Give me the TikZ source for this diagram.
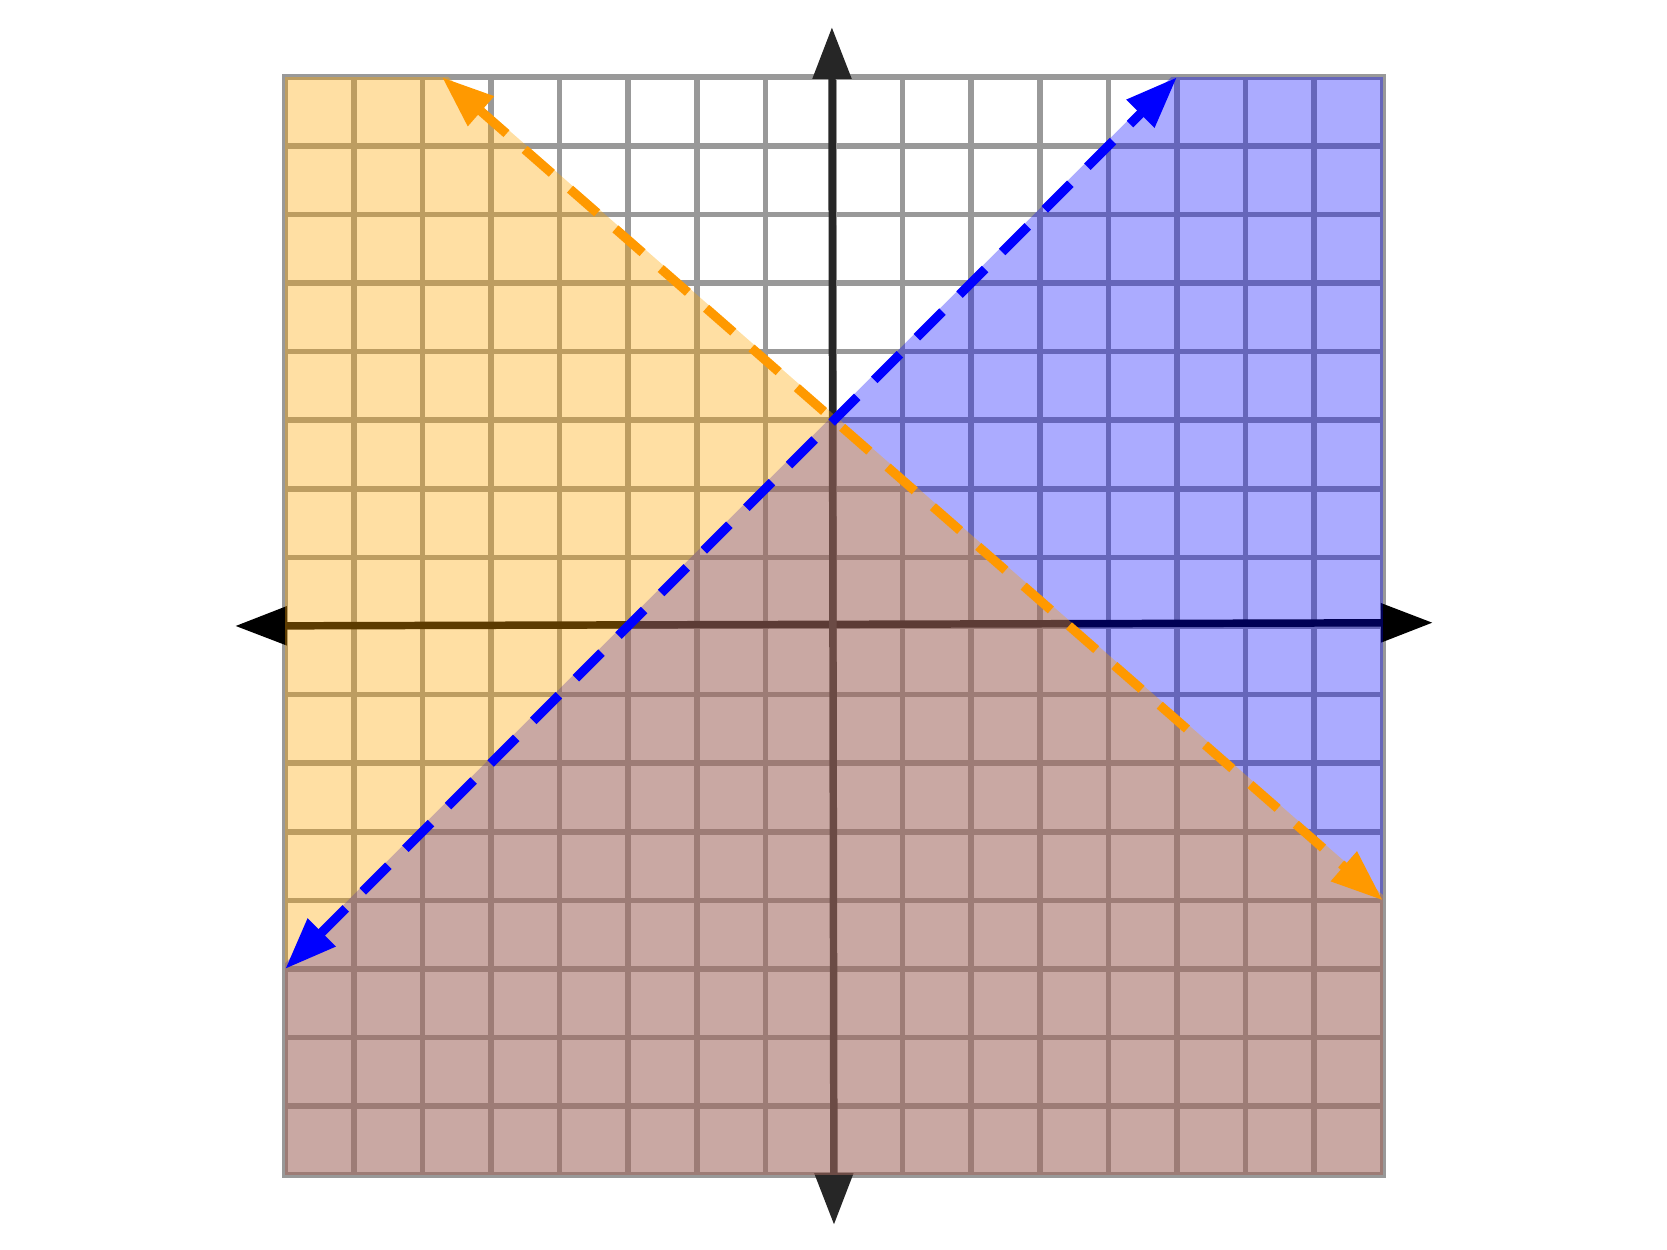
\documentclass[tikz,border=0pt]{standalone}
\usetikzlibrary{arrows.meta}
\definecolor{gridgray}{RGB}{153,153,153}
\definecolor{axisgray}{RGB}{38,38,38}
\definecolor{fillorange}{RGB}{255,165,0}
\definecolor{lineorange}{RGB}{255,153,0}
\begin{document}
\begin{tikzpicture}[x=1cm,y=1cm,
  gridline/.style={draw=gridgray, line width=2.3pt},
  axisline/.style={line width=3.1pt, {Triangle[length=21.5pt,width=15.5pt]}-{Triangle[length=21.5pt,width=15.5pt]}},
  ineqline/.style={line width=3.8pt, dash pattern=on 15pt off 10pt, {Triangle[length=21.5pt,width=15.5pt]}-{Triangle[length=21.5pt,width=15.5pt]}},
  region/.style={fill opacity=0.34}]
\useasboundingbox (-12.157,-9.096) rectangle (12.143,9.125);
% grid
\draw[gridline] (-8,-8) grid (8,8);
\draw[gridline] (-8,-8) rectangle (8,8);
% axes
\coordinate (xl) at (-8.73,0);
\coordinate (xr) at (8.73,0.048);
\coordinate (yb) at (0,-8.73);
\coordinate (yt) at (-0.03,8.73);
\draw[axisline, black] (xl) -- (xr);
\draw[axisline, axisgray] (yb) -- (yt);
% shaded regions
\fill[blue, region, fill opacity=0.33] (4.915,8) -- (8,8) -- (8,-8) -- (-8,-8) -- (-8,-4.915) -- cycle;
\fill[fillorange, region, fill opacity=0.36] (-8,8) -- (-5.623,8) -- (8,-3.92) -- (8,-8) -- (-8,-8) -- cycle;
% boundary lines
\coordinate (o1) at (-5.714,8);
\coordinate (o2) at (8,-4);
\coordinate (b1) at (-8,-5);
\coordinate (b2) at (5,8);
\draw[ineqline, lineorange] (o1) -- (o2);
\draw[ineqline, blue] (b1) -- (b2);
\end{tikzpicture}
\end{document}
